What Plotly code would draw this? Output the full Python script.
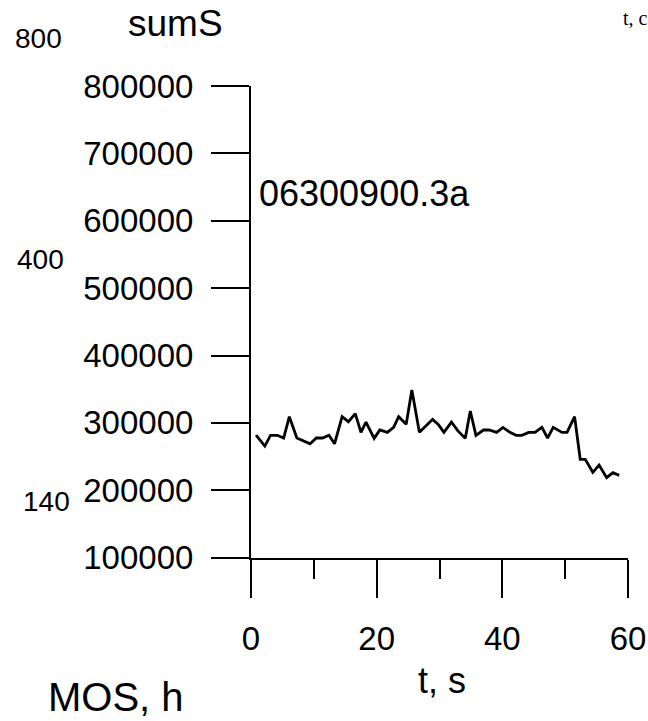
import plotly.graph_objects as go

# time (s) and summed signal sumS for record 06300900.3a
t_s = [0.8, 2.2, 3.1, 4.2, 5.2, 6.1, 7.3, 8.3, 9.4, 10.4, 11.4, 12.4, 13.3, 14.5,
       15.5, 16.6, 17.5, 18.3, 19.6, 20.5, 21.7, 22.7, 23.5, 24.7, 25.6, 26.8,
       28.0, 28.9, 29.8, 30.7, 31.9, 32.9, 34.1, 34.9, 35.8, 37.0, 37.9, 39.1,
       40.1, 41.2, 42.2, 43.1, 44.2, 45.2, 46.3, 47.2, 48.1, 49.5, 50.3, 51.5,
       52.4, 53.2, 54.4, 55.4, 56.6, 57.6, 58.6]
sum_s = [282000, 265700, 281600, 281600, 277600, 309200, 277600, 273100, 269100,
         277600, 277600, 281600, 269100, 309200, 301800, 313700, 286000, 301300,
         277100, 289500, 286000, 293400, 309200, 297900, 348800, 286000, 296900,
         305300, 297900, 286000, 301300, 288500, 277100, 317700, 281600, 289500,
         289500, 286000, 293400, 286000, 281600, 281600, 286000, 286000, 293400,
         277600, 293400, 286000, 286000, 309200, 246000, 246000, 226700, 237500,
         218700, 226100, 222200]

x_major = [0, 20, 40, 60]
x_minor = [10, 30, 50]
y_ticks = [100000, 200000, 300000, 400000, 500000, 600000, 700000, 800000]
y_labels = ["100000", "200000", "300000", "400000", "500000", "600000", "700000", "800000"]

W, H = 648, 721
SANS = "Liberation Sans, Arial, sans-serif"


def px(x):
    return x / W


def py(y):
    return 1 - y / H


fig = go.Figure()
fig.add_trace(go.Scatter(x=t_s, y=sum_s, mode="lines",
                         line=dict(color="black", width=2.8), showlegend=False,
                         hoverinfo="skip"))

fig.update_layout(
    width=W, height=H, autosize=False,
    margin=dict(l=0, r=0, t=0, b=0, pad=0, autoexpand=False),
    paper_bgcolor="white", plot_bgcolor="white",
    font=dict(family=SANS, color="black"),
    xaxis=dict(
        domain=[px(251), px(628)], range=[0, 60],
        tickmode="array", tickvals=x_major, ticktext=[str(v) for v in x_major],
        ticks="outside", ticklen=38, tickwidth=2, tickcolor="black",
        ticklabelstandoff=13,
        minor=dict(tickmode="array", tickvals=x_minor, ticks="outside",
                   ticklen=19, tickwidth=2, tickcolor="black", showgrid=False),
        showline=True, linecolor="black", linewidth=2,
        showgrid=False, zeroline=False, automargin=False,
        tickfont=dict(size=33, family=SANS, color="black"),
        anchor="y",
    ),
    yaxis=dict(
        domain=[py(557.7), py(86)], range=[100000, 800000],
        tickmode="array", tickvals=y_ticks, ticktext=y_labels,
        ticks="outside", ticklen=38, tickwidth=2, tickcolor="black",
        ticklabelstandoff=11,
        showline=True, linecolor="black", linewidth=2,
        showgrid=False, zeroline=False, automargin=False,
        tickfont=dict(size=33, family=SANS, color="black"),
        anchor="x",
    ),
)


def label(text, x, y, size, xanchor="center", family=SANS):
    fig.add_annotation(text=text, xref="paper", yref="paper",
                       x=px(x), y=py(y), xanchor=xanchor, yanchor="middle",
                       showarrow=False,
                       font=dict(size=size, family=family, color="black"))


label("sumS", 175, 24, 37)
label("06300900.3a", 257, 193, 36, xanchor="left")
label("800", 38, 39, 28)
label("400", 40, 259, 28)
label("140", 46, 501, 28)
label("t, s", 442, 680, 36)
label("MOS, h", 116, 697, 40)
label("t, c", 621, 18, 20, xanchor="left",
      family="Liberation Serif, Times New Roman, serif")

fig.write_html("out.html")
